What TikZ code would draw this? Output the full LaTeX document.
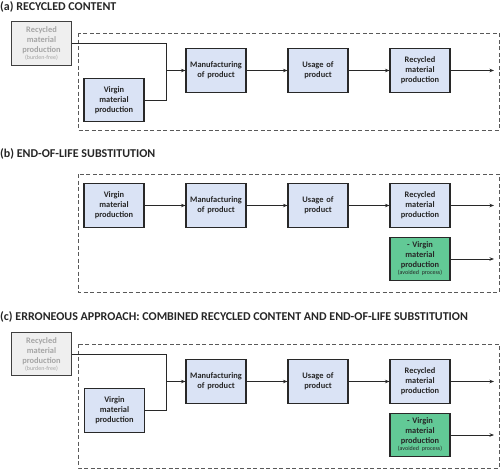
\documentclass[tikz,border=0pt]{standalone}
\usepackage{fontspec}
\setmainfont{Carlito}
\usetikzlibrary{arrows.meta}
\definecolor{boxblue}{RGB}{218,227,245}
\definecolor{boxgreen}{RGB}{98,201,150}
\definecolor{boxgray}{RGB}{239,239,239}
\definecolor{txtgray}{RGB}{165,165,165}
\definecolor{linec}{RGB}{40,40,40}
\tikzset{
  proc/.style={draw=linec, line width=1.1pt, fill=boxblue, minimum width=60pt, minimum height=43.5pt,
    inner sep=0pt, text width=59pt, align=center, font=\fontsize{8.4}{10}\selectfont\bfseries, text=black!85},
  procgreen/.style={proc, fill=boxgreen},
  procgray/.style={proc, fill=boxgray, draw=black!75, text=txtgray},
  frame/.style={draw=black!65, line width=1pt, dash pattern=on 4pt off 2.5pt},
  flow/.style={draw=linec, line width=0.8pt},
  flowarr/.style={flow, -{Stealth[length=4.5pt,width=3.5pt]}},
  title/.style={anchor=base west, inner sep=0pt, font=\fontsize{12}{14}\selectfont\bfseries, text=black!85}
}
\newcommand{\smallnote}[1]{{\fontsize{6}{6}\selectfont\mdseries #1}}
\begin{document}
\begin{tikzpicture}[x=1pt,y=-1pt]
\useasboundingbox (0,0) rectangle (500,469);
% ---------- (a)
\node[title] (tA) at (0,10.5) {(a) RECYCLED CONTENT};
\draw[frame] (78,33) rectangle (499,130);
\node[procgray] (gA) at (41.5,43.5) {Recycled\\material\\production\\[-3pt]\smallnote{(burden-free)}};
\node[proc] (vA) at (114,100) {Virgin\\material\\production};
\node[proc] (mA) at (216,70.5) {Manufacturing\\of product};
\node[proc] (uA) at (318,70.5) {Usage of\\product};
\node[proc] (rA) at (420,70.5) {Recycled\\material\\production};
\coordinate (jA) at (166,70.5);
\coordinate (oA) at (494,70.5);
\draw[flow] (gA.east) -| (jA);
\draw[flow] (vA.east) -| (jA);
\draw[flowarr] (jA) -- (mA.west);
\draw[flowarr] (mA) -- (uA);
\draw[flowarr] (uA) -- (rA);
\draw[flowarr] (rA) -- (oA);
% ---------- (b)
\node[title] (tB) at (0,157) {(b) END-OF-LIFE SUBSTITUTION};
\draw[frame] (78,174) rectangle (499,292);
\node[proc] (vB) at (114,205.5) {Virgin\\material\\production};
\node[proc] (mB) at (216,205.5) {Manufacturing\\of product};
\node[proc] (uB) at (318,205.5) {Usage of\\product};
\node[proc] (rB) at (420,205.5) {Recycled\\material\\production};
\node[procgreen] (eB) at (420,259) {- Virgin\\material\\production\\[-3pt]\smallnote{(avoided process)}};
\coordinate (oB) at (494,205.5);
\coordinate (oB2) at (494,259);
\draw[flowarr] (vB) -- (mB);
\draw[flowarr] (mB) -- (uB);
\draw[flowarr] (uB) -- (rB);
\draw[flowarr] (rB) -- (oB);
\draw[flowarr] (eB) -- (oB2);
% ---------- (c)
\node[title] (tC) at (0,320) {(c) ERRONEOUS APPROACH: COMBINED RECYCLED CONTENT AND END-OF-LIFE SUBSTITUTION};
\draw[frame] (78,344) rectangle (499,468);
\node[procgray] (gC) at (41.5,354) {Recycled\\material\\production\\[-3pt]\smallnote{(burden-free)}};
\node[proc] (vC) at (114.5,410.5) {Virgin\\material\\production};
\node[proc] (mC) at (216,381.5) {Manufacturing\\of product};
\node[proc] (uC) at (318,381.5) {Usage of\\product};
\node[proc] (rC) at (420,381.5) {Recycled\\material\\production};
\node[procgreen] (eC) at (420,435) {- Virgin\\material\\production\\[-3pt]\smallnote{(avoided process)}};
\coordinate (jC) at (166,381.5);
\coordinate (oC) at (494,381.5);
\coordinate (oC2) at (494,435);
\draw[flow] (gC.east) -| (jC);
\draw[flow] (vC.east) -| (jC);
\draw[flowarr] (jC) -- (mC.west);
\draw[flowarr] (mC) -- (uC);
\draw[flowarr] (uC) -- (rC);
\draw[flowarr] (rC) -- (oC);
\draw[flowarr] (eC) -- (oC2);
\end{tikzpicture}
\end{document}
